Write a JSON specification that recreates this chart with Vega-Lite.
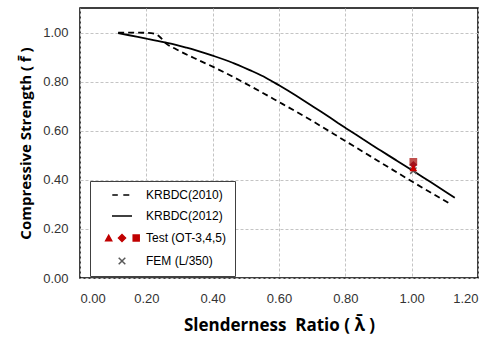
{
  "$schema": "https://vega.github.io/schema/vega-lite/v6.json",
  "width": 398,
  "height": 270,
  "autosize": {"type": "none"},
  "padding": {"left": 80, "top": 8, "right": 22, "bottom": 75},
  "background": "#ffffff",
  "config": {
    "view": {"stroke": "#000000", "strokeWidth": 1.5},
    "font": "Liberation Sans",
    "axis": {
      "grid": true,
      "gridColor": "#c4c4c4",
      "gridDash": [3, 2],
      "gridWidth": 1,
      "domain": false,
      "ticks": false,
      "labelFont": "Liberation Sans",
      "labelFontSize": 13,
      "labelColor": "#333333",
      "titleFont": "Open Sans",
      "titleFontSize": 15,
      "titleFontWeight": "bold",
      "titleColor": "#000000"
    }
  },
  "datasets": {
    "curves": [
      {"series": "KRBDC(2010)", "lambda": 0.115, "f": 1.0},
      {"series": "KRBDC(2010)", "lambda": 0.2, "f": 0.999},
      {"series": "KRBDC(2010)", "lambda": 0.225, "f": 0.995},
      {"series": "KRBDC(2010)", "lambda": 0.24, "f": 0.983},
      {"series": "KRBDC(2010)", "lambda": 0.26, "f": 0.955},
      {"series": "KRBDC(2010)", "lambda": 0.29, "f": 0.932},
      {"series": "KRBDC(2010)", "lambda": 0.36, "f": 0.886},
      {"series": "KRBDC(2010)", "lambda": 0.4, "f": 0.861},
      {"series": "KRBDC(2010)", "lambda": 0.5, "f": 0.792},
      {"series": "KRBDC(2010)", "lambda": 0.6, "f": 0.717},
      {"series": "KRBDC(2010)", "lambda": 0.7, "f": 0.64},
      {"series": "KRBDC(2010)", "lambda": 0.8, "f": 0.558},
      {"series": "KRBDC(2010)", "lambda": 0.9, "f": 0.476},
      {"series": "KRBDC(2010)", "lambda": 1.0, "f": 0.394},
      {"series": "KRBDC(2010)", "lambda": 1.12, "f": 0.299},
      {"series": "KRBDC(2012)", "lambda": 0.115, "f": 0.998},
      {"series": "KRBDC(2012)", "lambda": 0.2, "f": 0.975},
      {"series": "KRBDC(2012)", "lambda": 0.26, "f": 0.959},
      {"series": "KRBDC(2012)", "lambda": 0.32, "f": 0.939},
      {"series": "KRBDC(2012)", "lambda": 0.4, "f": 0.906},
      {"series": "KRBDC(2012)", "lambda": 0.46, "f": 0.877},
      {"series": "KRBDC(2012)", "lambda": 0.51, "f": 0.848},
      {"series": "KRBDC(2012)", "lambda": 0.56, "f": 0.816},
      {"series": "KRBDC(2012)", "lambda": 0.6, "f": 0.785},
      {"series": "KRBDC(2012)", "lambda": 0.7, "f": 0.701},
      {"series": "KRBDC(2012)", "lambda": 0.8, "f": 0.612},
      {"series": "KRBDC(2012)", "lambda": 0.9, "f": 0.525},
      {"series": "KRBDC(2012)", "lambda": 1.0, "f": 0.44},
      {"series": "KRBDC(2012)", "lambda": 1.13, "f": 0.327}
    ],
    "fem": [
      {"lambda": 1.005, "f": 0.437}
    ],
    "tests": [
      {"specimen": "OT-5", "lambda": 1.005, "f": 0.473},
      {"specimen": "OT-4", "lambda": 1.005, "f": 0.461},
      {"specimen": "OT-3", "lambda": 1.005, "f": 0.449}
    ]
  },
  "encoding": {
    "x": {
      "field": "lambda",
      "type": "quantitative",
      "scale": {"domain": [0, 1.2], "nice": false, "zero": false},
      "axis": {
        "values": [0, 0.2, 0.4, 0.6, 0.8, 1.0, 1.2],
        "format": ".2f",
        "title": "Slenderness\u00a0 Ratio ( λ̄ )",
        "titleFontSize": 17,
        "labelPadding": 14,
        "titlePadding": 12
      }
    },
    "y": {
      "field": "f",
      "type": "quantitative",
      "scale": {"domain": [0, 1.1], "nice": false},
      "axis": {
        "values": [0, 0.2, 0.4, 0.6, 0.8, 1.0],
        "format": ".2f",
        "title": "Compressive Strength ( f̄ )",
        "labelPadding": 12,
        "titlePadding": 9
      }
    }
  },
  "layer": [
    {
      "data": {"name": "curves"},
      "mark": {"type": "line", "strokeWidth": 1.8, "interpolate": "monotone"},
      "encoding": {
        "color": {
          "field": "series",
          "type": "nominal",
          "scale": {
            "domain": ["KRBDC(2010)", "KRBDC(2012)", "Test (OT-3,4,5)", "FEM (L/350)"],
            "range": ["#000000", "#000000", "#c00000", "#595959"]
          },
          "legend": {
            "title": null,
            "orient": "none",
            "legendX": 10,
            "legendY": 173,
            "padding": 8,
            "strokeColor": "#404040",
            "fillColor": "#ffffff",
            "labelFont": "Liberation Sans",
            "labelFontSize": 12,
            "labelColor": "#000000",
            "symbolSize": 100,
            "symbolStrokeWidth": 1.5,
            "symbolOffset": 18,
            "labelOffset": 18,
            "rowPadding": 9,
            "encode": {
              "symbols": {
                "update": {
                  "shape": {"signal": "datum.value == 'KRBDC(2010)' ? 'M-1.94,0H-0.84M0.26,0H1.46' : datum.value == 'KRBDC(2012)' ? 'M-2,0H2' : datum.value == 'FEM (L/350)' ? 'M-0.66,-0.66L0.66,0.66M-0.66,0.66L0.66,-0.66' : 'M-3.26,0.55L-2.06,0.55L-2.66,-0.55ZM-0.7,0L0,-0.7L0.7,0L0,0.7ZM2.24,-0.6L3.44,-0.6L3.44,0.6L2.24,0.6Z'"},
                  "fill": {"signal": "datum.value == 'Test (OT-3,4,5)' ? '#c00000' : 'transparent'"},
                  "stroke": {"signal": "datum.value == 'Test (OT-3,4,5)' ? 'transparent' : datum.value == 'FEM (L/350)' ? '#595959' : '#000000'"}
                }
              }
            }
          }
        },
        "strokeDash": {
          "field": "series",
          "type": "nominal",
          "scale": {"domain": ["KRBDC(2010)", "KRBDC(2012)"], "range": [[6, 4], [10, 0]]},
          "legend": null
        }
      }
    },
    {
      "data": {"name": "fem"},
      "mark": {"type": "point", "shape": "M-1,-1L1,1M-1,1L1,-1", "filled": false, "stroke": "#595959", "strokeWidth": 1.5, "size": 40, "opacity": 1}
    },
    {
      "data": {"name": "tests"},
      "mark": {"type": "point", "filled": true, "opacity": 1, "size": 60},
      "encoding": {
        "shape": {
          "field": "specimen",
          "type": "nominal",
          "scale": {"domain": ["OT-5", "OT-4", "OT-3"], "range": ["square", "diamond", "triangle-up"]},
          "legend": null
        },
        "fill": {
          "field": "specimen",
          "type": "nominal",
          "scale": {"domain": ["OT-5", "OT-4", "OT-3"], "range": ["#c0504d", "#a0141e", "#cc0000"]},
          "legend": null
        }
      }
    }
  ]
}
